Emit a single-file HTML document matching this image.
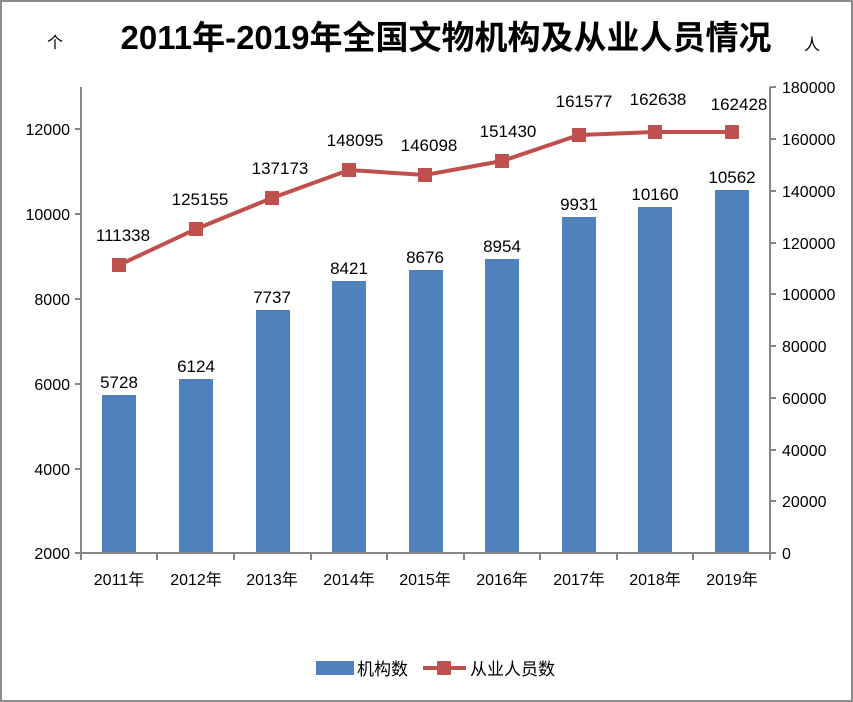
<!DOCTYPE html>
<html><head><meta charset="utf-8"><style>
html,body{margin:0;padding:0;background:#fff}
svg{display:block}
text{font-family:"Liberation Sans","Noto Sans CJK SC",sans-serif;fill:#000}
</style></head><body>
<svg width="853" height="702" viewBox="0 0 853 702" xmlns="http://www.w3.org/2000/svg">
<rect x="1" y="1" width="851" height="700" fill="#fff" stroke="#8c8c8c" stroke-width="2"/>
<text x="446" y="49" font-size="33" font-weight="bold" text-anchor="middle">2011年-2019年全国文物机构及从业人员情况</text>
<text x="55" y="48" font-size="16" text-anchor="middle">个</text>
<text x="812" y="50" font-size="16" text-anchor="middle">人</text>
<g fill="#4f81bd">
<rect x="102" y="395" width="34" height="158"/>
<rect x="179" y="379" width="34" height="174"/>
<rect x="256" y="310" width="34" height="243"/>
<rect x="332" y="281" width="34" height="272"/>
<rect x="409" y="270" width="34" height="283"/>
<rect x="485" y="259" width="34" height="294"/>
<rect x="562" y="217" width="34" height="336"/>
<rect x="638" y="207" width="34" height="346"/>
<rect x="715" y="190" width="34" height="363"/>
</g>
<g stroke="#868686" stroke-width="2" fill="none">
<line x1="81" y1="87" x2="81" y2="554"/>
<line x1="770" y1="87" x2="770" y2="554"/>
<line x1="80" y1="553" x2="771" y2="553"/>
<path d="M75 129H81M75 214H81M75 299H81M75 384H81M75 469H81M75 553H81"/>
<path d="M770 87H776M770 139H776M770 191H776M770 243H776M770 294H776M770 346H776M770 398H776M770 450H776M770 501H776M770 553H776"/>
<path d="M81 553V560M157 553V560M234 553V560M311 553V560M387 553V560M464 553V560M540 553V560M617 553V560M693 553V560M770 553V560"/>
</g>
<g font-size="16" text-anchor="end">
<text x="70" y="135">12000</text><text x="70" y="220">10000</text><text x="70" y="305">8000</text>
<text x="70" y="390">6000</text><text x="70" y="475">4000</text><text x="70" y="559">2000</text>
</g>
<g font-size="16" text-anchor="start">
<text x="782" y="93">180000</text><text x="782" y="145">160000</text><text x="782" y="197">140000</text>
<text x="782" y="249">120000</text><text x="782" y="300">100000</text><text x="782" y="352">80000</text>
<text x="782" y="404">60000</text><text x="782" y="456">40000</text><text x="782" y="507">20000</text>
<text x="782" y="559">0</text>
</g>
<g font-size="16" text-anchor="middle">
<text x="119" y="585">2011年</text><text x="196" y="585">2012年</text><text x="272" y="585">2013年</text>
<text x="349" y="585">2014年</text><text x="425" y="585">2015年</text><text x="502" y="585">2016年</text>
<text x="579" y="585">2017年</text><text x="655" y="585">2018年</text><text x="732" y="585">2019年</text>
</g>
<g font-size="17" text-anchor="middle">
<text x="119" y="388">5728</text><text x="196" y="372">6124</text><text x="272" y="303">7737</text>
<text x="349" y="274">8421</text><text x="425" y="263">8676</text><text x="502" y="252">8954</text>
<text x="579" y="210">9931</text><text x="655" y="200">10160</text><text x="732" y="183">10562</text>
</g>
<polyline points="119,265 196,229 272,198 349,170 425,175 502,161 579,135 655,132 732,132" fill="none" stroke="#c0504d" stroke-width="4"/>
<g fill="#c0504d">
<rect x="112" y="258" width="14" height="14"/><rect x="189" y="222" width="14" height="14"/>
<rect x="265" y="191" width="14" height="14"/><rect x="342" y="163" width="14" height="14"/>
<rect x="418" y="168" width="14" height="14"/><rect x="495" y="154" width="14" height="14"/>
<rect x="572" y="128" width="14" height="14"/><rect x="648" y="125" width="14" height="14"/>
<rect x="725" y="125" width="14" height="14"/>
</g>
<g font-size="17" text-anchor="middle">
<text x="123" y="241">111338</text><text x="200" y="205">125155</text><text x="280" y="174">137173</text>
<text x="355" y="146">148095</text><text x="429" y="151">146098</text><text x="508" y="137">151430</text>
<text x="584" y="107">161577</text><text x="658" y="105">162638</text><text x="739" y="110">162428</text>
</g>
<rect x="316" y="661" width="38" height="14" fill="#4f81bd"/>
<text x="357" y="675" font-size="17">机构数</text>
<line x1="423" y1="668" x2="466" y2="668" stroke="#c0504d" stroke-width="4"/>
<rect x="437" y="661" width="14" height="14" fill="#c0504d"/>
<text x="470" y="675" font-size="17">从业人员数</text>
</svg>
</body></html>
